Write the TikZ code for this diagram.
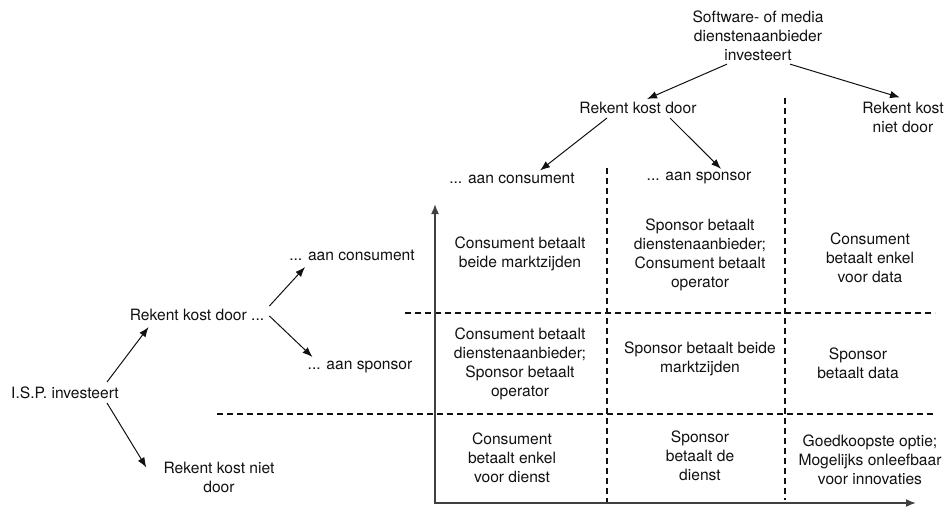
\documentclass[tikz,border=0pt]{standalone}
\usepackage{fontspec}
\setmainfont{TeX Gyre Heros}
\usetikzlibrary{arrows.meta}
\definecolor{txt}{HTML}{111111}
\definecolor{axisgray}{HTML}{404040}
\tikzset{
  lbl/.style={inner sep=0pt, align=center, text=txt, font=\fontsize{15.6}{19}\selectfont},
  arr/.style={draw=txt, line width=1pt, -{Latex[length=10pt,width=7.5pt]}},
  axisline/.style={draw=axisgray, line width=1.7pt, {Latex[length=10pt,width=8pt]}-{Latex[length=10pt,width=8pt]}},
  grid dash/.style={draw=txt, line width=1.1pt, dash pattern=on 6pt off 4pt}
}
\begin{document}
\begin{tikzpicture}[x=1pt,y=-1pt]
\useasboundingbox (0,0) rectangle (951,508);
% top tree
\node[lbl] (sw) at (758,36) {Software- of media\\dienstenaanbieder\\investeert};
\node[lbl] (rk) at (638,108) {Rekent kost door};
\node[lbl] (rn) at (903,117) {Rekent kost\\niet door};
\node[lbl] (tc) at (512,178) {... aan consument};
\node[lbl] (ts) at (699,178) {... aan sponsor};
% left tree
\node[lbl] (isp) at (65,393) {I.S.P. investeert};
\node[lbl] (lr) at (197,315) {Rekent kost door ...};
\node[lbl] (lc) at (352,255) {... aan consument};
\node[lbl] (ls) at (360,367) {... aan sponsor};
\node[lbl] (ln) at (219,477) {Rekent kost niet\\door};
% cells
\node[lbl] (c11) at (520,254) {Consument betaalt\\beide marktzijden};
\node[lbl] (c12) at (700,255) {Sponsor betaalt\\dienstenaanbieder;\\Consument betaalt\\operator};
\node[lbl] (c13) at (870,258) {Consument\\betaalt enkel\\voor data};
\node[lbl] (c21) at (520,364) {Consument betaalt\\dienstenaanbieder;\\Sponsor betaalt\\operator};
\node[lbl] (c22) at (700,359) {Sponsor betaalt beide\\marktzijden};
\node[lbl] (c23) at (858,363) {Sponsor\\betaalt data};
\node[lbl] (c31) at (512,458) {Consument\\betaalt enkel\\voor dienst};
\node[lbl] (c32) at (700,456) {Sponsor\\betaalt de\\dienst};
\node[lbl] (c33) at (870,460) {Goedkoopste optie;\\Mogelijks onleefbaar\\voor innovaties};
% grid coordinates
\coordinate (ytip) at (435,204);
\coordinate (xtip) at (916,503);
\coordinate (v1a) at (607,168);
\coordinate (v1b) at (607,503);
\coordinate (v2a) at (785,98);
\coordinate (v2b) at (785,500);
\coordinate (h1a) at (405,313);
\coordinate (h1b) at (935,313);
\coordinate (h2a) at (217,414);
\coordinate (h2b) at (935,414);
% dashed grid
\draw[grid dash] (v1a) -- (v1b);
\draw[grid dash] (v2a) -- (v2b);
\draw[grid dash] (h1a) -- (h1b);
\draw[grid dash] (h2a) -- (h2b);
% axes
\draw[axisline] (ytip) |- (xtip);
% arrows top
\draw[arr] ([xshift=-31pt,yshift=-3pt]sw.south) -- ([xshift=9pt,yshift=3pt]rk.north);
\draw[arr] ([xshift=32pt,yshift=-3pt]sw.south) -- ([xshift=-3pt,yshift=4pt]rn.north);
\draw[arr] ([xshift=-31pt,yshift=-4pt]rk.south) -- ([xshift=28pt,yshift=2pt]tc.north);
\draw[arr] ([xshift=32pt,yshift=-4pt]rk.south) -- ([xshift=22pt,yshift=3pt]ts.north);
% arrows left
\draw[arr] ([xshift=-12pt,yshift=11pt]isp.east) -- ([xshift=19pt,yshift=-12pt]lr.west);
\draw[arr] ([xshift=-12pt,yshift=-10pt]isp.east) -- ([xshift=-17pt,yshift=-6pt]ln.north west);
\draw[arr] ([xshift=5pt,yshift=9pt]lr.east) -- ([xshift=16pt,yshift=-12pt]lc.west);
\draw[arr] ([xshift=5pt,yshift=-1pt]lr.east) -- ([xshift=5pt,yshift=10pt]ls.west);
\end{tikzpicture}
\end{document}
